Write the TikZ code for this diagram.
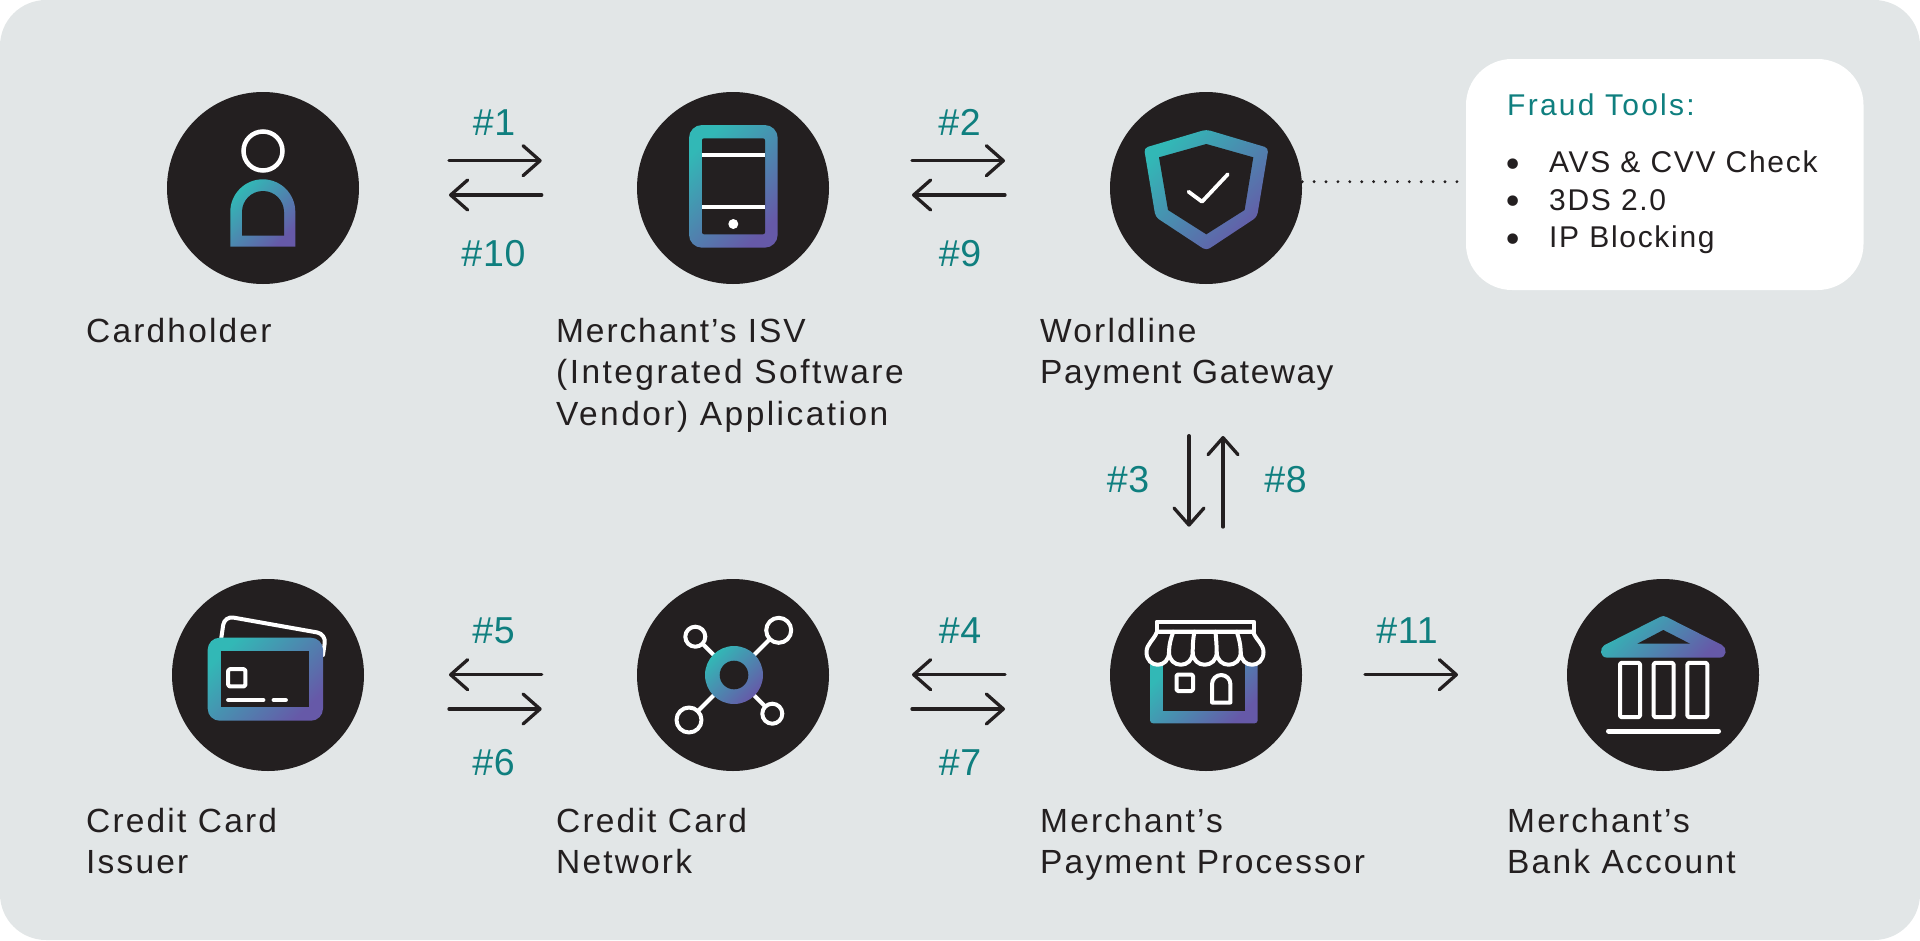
\documentclass[tikz,border=0pt]{standalone}
\usepackage{fontspec}
\setmainfont{Liberation Sans}
\usetikzlibrary{arrows.meta,calc}
\definecolor{bgc}{HTML}{E2E6E7}
\definecolor{ink}{HTML}{231F20}
\definecolor{tealt}{HTML}{0F7F7F}
\definecolor{gradA}{HTML}{32B8B6}
\definecolor{gradB}{HTML}{6659A8}
\newfontfamily\lblfont[LetterSpace=6.5]{Liberation Sans}
\newfontfamily\lblwide[LetterSpace=7.3]{Liberation Sans}
\newfontfamily\lblmid[LetterSpace=5.7]{Liberation Sans}
\newfontfamily\lblnarrow[LetterSpace=4.5]{Liberation Sans}
\newfontfamily\listfont[LetterSpace=5.7]{Liberation Sans}
\newfontfamily\titlefont[LetterSpace=7.5]{Liberation Sans}
\newfontfamily\numfont[LetterSpace=2]{Liberation Sans}
\newfontfamily\bulfont{DejaVu Sans}
\tikzset{
  x=1pt,y=-1pt,
  disc/.style={circle,fill=ink,minimum size=192pt,inner sep=0pt,draw=none},
  grad/.style={top color=gradA,bottom color=gradB,shading angle=45},
  hole/.style={fill=ink},
  wline/.style={draw=white,line width=4pt,line cap=round,line join=round},
  conn/.style={draw=ink,line width=3.3pt,line cap=round,-{Straight Barb[length=17pt,width=30pt,line width=3.3pt,round]}},
  lbl/.style={anchor=base west,inner sep=0pt,text=ink,font=\fontsize{33.5}{41.3}\selectfont\lblfont,align=left},
  num/.style={anchor=base,inner sep=0pt,text=tealt,font=\fontsize{37.5}{37.5}\selectfont\numfont},
  itemtext/.style={anchor=base west,inner sep=0pt,text=ink,font=\fontsize{30}{30}\selectfont\listfont},
  bul/.style={anchor=base west,inner sep=0pt,text=ink,align=left,font=\fontsize{36}{37.85}\selectfont\bulfont},
}
\begin{document}
\begin{tikzpicture}
\useasboundingbox (0,0) rectangle (1920,940);
\fill[bgc,rounded corners=46pt] (0,0) rectangle (1920,940);
\node[disc] (holder) at (263,188) {};
\node[disc] (isv) at (733,188) {};
\node[disc] (gateway) at (1206,188) {};
\node[disc] (issuer) at (268,675) {};
\node[disc] (network) at (733,675) {};
\node[disc] (processor) at (1206,675) {};
\node[disc] (bank) at (1663,675) {};
% person
\draw[white,line width=4.5pt] (263,151) circle (19.5);
\shade[grad] (230.3,246.7) -- (230.3,211.8) arc[start angle=180,end angle=360,x radius=32.5,y radius=32.5] -- (295.3,246.7) -- cycle;
\fill[hole] (242,235.7) -- (242,212) arc[start angle=180,end angle=360,x radius=21,y radius=21] -- (284,235.7) -- cycle;
% phone
\shade[grad,rounded corners=13pt] (689,125) rectangle (777.7,247.7);
\fill[hole,rounded corners=2pt] (702,138.3) rectangle (765,234.3);
\fill[white] (702,152.5) rectangle (765,157);
\fill[white] (702,205) rectangle (765,209);
\fill[white] (733.3,224) circle (5);
% shield
\shade[grad,rounded corners=4pt] (1206.3,129.5) -- (1144,148) -- (1155.5,217) -- (1206.3,250.5) -- (1257,217) -- (1268.5,148) -- cycle;
\fill[hole] (1206.3,144) -- (1159,157.3) -- (1168,210) -- (1206.3,234.3) -- (1244.6,210) -- (1253.3,157.3) -- cycle;
\draw[wline,line width=3.8pt] (1188.5,191.7) -- (1202,201.7) -- (1227.8,174.3);
% card
\draw[wline,rounded corners=9pt] (221,640) -- (224.5,616) -- (326,634) -- (323,655);
\shade[grad,rounded corners=12pt] (207.7,637.7) rectangle (323,720.7);
\fill[hole] (221.3,651) rectangle (309,707);
\draw[wline,rounded corners=1.5pt] (228.2,669.2) rectangle (245.4,686.4);
\draw[wline,line width=4.8pt] (228.5,700) -- (263,700);
\draw[wline,line width=4.8pt] (274,700) -- (285.5,700);
% network
\draw[wline] (734,675) -- (695.3,636.7);
\draw[wline] (734,675) -- (778.7,630.3);
\draw[wline] (734,675) -- (689,720);
\draw[wline] (734,675) -- (772.3,713.7);
\draw[wline,fill=ink] (695.3,636.7) circle (10);
\draw[wline,fill=ink] (778.7,630.3) circle (12.5);
\draw[wline,fill=ink] (689,720) circle (12.5);
\draw[wline,fill=ink] (772.3,713.7) circle (10);
\shade[grad] (734,675) circle (29);
\fill[hole] (734,675) circle (14.3);
% store
\shade[grad,rounded corners=3pt] (1150,660) -- (1150,723.3) -- (1257.7,723.3) -- (1257.7,660) -- cycle;
\fill[hole] (1162.7,655) rectangle (1245,710.7);
\draw[wline,fill=ink] (1157,631.7) .. controls (1154,640) and (1146.5,644) .. (1146.5,652)
  .. controls (1146.5,669) and (1169,669) .. (1169,652)
  .. controls (1169,669) and (1192.7,669) .. (1192.7,652)
  .. controls (1192.7,669) and (1216.7,669) .. (1216.7,652)
  .. controls (1216.7,669) and (1240.7,669) .. (1240.7,652)
  .. controls (1240.7,669) and (1263.5,669) .. (1263.5,652)
  .. controls (1263.5,644) and (1256,640) .. (1253,631.7) -- cycle;
\draw[wline] (1169,652) .. controls (1169,645) and (1171,638) .. (1173.3,631.7);
\draw[wline] (1192.7,652) .. controls (1192.7,645) and (1193,638) .. (1194.5,631.7);
\draw[wline] (1216.7,652) .. controls (1216.7,645) and (1216,638) .. (1215.5,631.7);
\draw[wline] (1240.7,652) .. controls (1240.7,645) and (1239,638) .. (1236.7,631.7);
\draw[wline] (1156.5,621.7) rectangle (1254,631.7);
\draw[wline,rounded corners=1.5pt] (1176.5,674.5) rectangle (1193,691);
\draw[wline] (1212,702.5) -- (1212,684.2) arc[start angle=180,end angle=360,x radius=9.2,y radius=9.2] -- (1230.4,702.5) -- cycle;
% bank
\shade[grad] (1660,617) .. controls (1662,615.7) and (1664.6,615.7) .. (1666.6,617) -- (1722,645)
  .. controls (1727,647.6) and (1727.5,657.7) .. (1719,657.7) -- (1607.6,657.7)
  .. controls (1599,657.7) and (1599.6,647.6) .. (1604.6,645) -- cycle;
\fill[hole] (1663.3,630) -- (1637.3,643.7) -- (1690,643.7) -- cycle;
\draw[wline,rounded corners=1.5pt] (1620,662.8) rectangle (1640,717.2);
\draw[wline,rounded corners=1.5pt] (1653.7,662.8) rectangle (1673.6,717.2);
\draw[wline,rounded corners=1.5pt] (1687.4,662.8) rectangle (1707.3,717.2);
\draw[wline,line width=5pt] (1608.5,731) -- (1718.5,731);
% fraud box
\node[fill=white,rounded corners=46pt,minimum width=397.5pt,minimum height=231pt,inner sep=0pt] (fraud) at (1664.75,174.5) {};
\coordinate (dotEnd) at (1461,181.7);
\draw[ink,line width=3.2pt,line cap=round,dash pattern=on 0pt off 11.9pt] ([yshift=6.3pt]gateway.east) -- (dotEnd);
\node[anchor=base west,inner sep=0pt,text=tealt,font=\fontsize{30}{30}\selectfont\titlefont] (ftitle) at (1507,115.7) {Fraud Tools:};
\node[bul] (bullets) at (1502.4,252.7) {•\\•\\•};
\node[itemtext] (t1) at (1549,172) {AVS \& CVV Check};
\node[itemtext] (t2) at (1549,210) {3DS 2.0};
\node[itemtext] (t3) at (1549,247.7) {IP Blocking};
% labels (each base is the last line's baseline)
\node[lbl] (lholder) at (86,342.7) {Cardholder};
\node[lbl] (lisv) at (556,425) {{\lblmid Merchant’s ISV}\\{\lblwide (Integrated Software}\\{\lblwide Vendor) Application}};
\node[lbl] (lgate) at (1040,383.7) {Worldline\\{\lblnarrow Payment Gateway}};
\node[lbl] (lissuer) at (86,873.7) {Credit Card\\Issuer};
\node[lbl] (lnet) at (556,873.7) {Credit Card\\Network};
\node[lbl] (lproc) at (1040,873.7) {Merchant’s\\Payment Processor};
\node[lbl] (lbank) at (1507,873.7) {Merchant’s\\Bank Account};
% arrows
\coordinate (a1s) at (449,160.7); \coordinate (a1e) at (541.7,160.7);
\coordinate (a2s) at (541.7,195); \coordinate (a2e) at (449,195);
\coordinate (a3s) at (912,160.7); \coordinate (a3e) at (1005,160.7);
\coordinate (a4s) at (1005,195); \coordinate (a4e) at (912,195);
\coordinate (a5s) at (1189,435.7); \coordinate (a5e) at (1189,526.7);
\coordinate (a6s) at (1223,527); \coordinate (a6e) at (1223,436);
\coordinate (a7s) at (541.7,674.7); \coordinate (a7e) at (449,674.7);
\coordinate (a8s) at (449,709); \coordinate (a8e) at (541.7,709);
\coordinate (a9s) at (1005,674.7); \coordinate (a9e) at (912,674.7);
\coordinate (a10s) at (912,709); \coordinate (a10e) at (1005,709);
\coordinate (a11s) at (1365,674.7); \coordinate (a11e) at (1458,674.7);
\foreach \i in {1,...,11} {\draw[conn] (a\i s) -- (a\i e);}
% numbers
\node[num] (n1) at (494,135.2) {\#1};
\node[num] (n10) at (493.5,266.7) {\#10};
\node[num] (n2) at (959.5,135.2) {\#2};
\node[num] (n9) at (960,266.7) {\#9};
\node[num] (n3) at (1128,492.7) {\#3};
\node[num] (n8) at (1285.5,492.7) {\#8};
\node[num] (n5) at (493.5,643) {\#5};
\node[num] (n6) at (493.5,775) {\#6};
\node[num] (n4) at (960,643) {\#4};
\node[num] (n7) at (960,775) {\#7};
\node[num] (n11) at (1407,643) {\#11};
\end{tikzpicture}
\end{document}
